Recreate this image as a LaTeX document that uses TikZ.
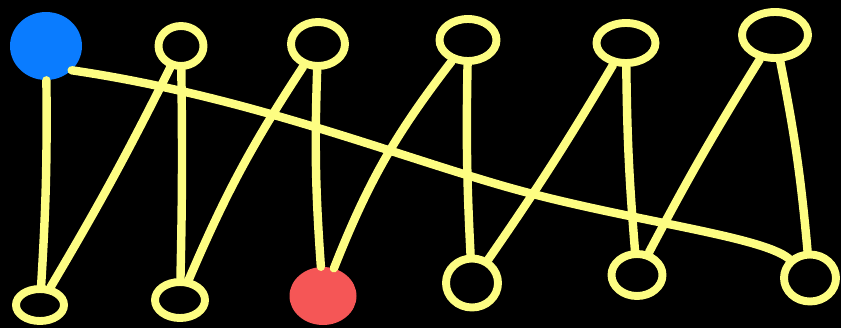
\documentclass[tikz,border=0pt]{standalone}
\usetikzlibrary{shapes.geometric}
\definecolor{penyellow}{HTML}{FDFD82}
\definecolor{startblue}{HTML}{0A7CFF}
\definecolor{endred}{HTML}{F55656}
\tikzset{
  ring/.style n args={2}{ellipse, draw=penyellow, line width=4.5pt, inner sep=0pt,
    minimum width={#1*0.02cm}, minimum height={#2*0.02cm}},
  blob/.style n args={2}{ellipse, inner sep=0pt,
    minimum width={#1*0.02cm}, minimum height={#2*0.02cm}},
  edge/.style={draw=penyellow, line width=4.8pt, line cap=round}
}
\begin{document}
\begin{tikzpicture}[x=0.02cm, y=-0.02cm]
  % background
  \fill[black] (0,0) rectangle (841,328);
  \useasboundingbox (0,0) rectangle (841,328);

  % top row
  \node[blob={72}{68}, fill=startblue] (s) at (46,46) {};
  \node[ring={45}{40}] (t2) at (181,46) {};
  \node[ring={54}{44}] (t3) at (318,44) {};
  \node[ring={57}{42}] (t4) at (468,40) {};
  \node[ring={59}{40}] (t5) at (626,43) {};
  \node[ring={66}{46}] (t6) at (775,35) {};

  % bottom row
  \node[ring={48}{32}] (b1) at (40,305) {};
  \node[ring={50}{36}] (b2) at (180,300) {};
  \node[blob={67}{58}, fill=endred] (r) at (323,296) {};
  \node[ring={52}{49}] (b4) at (472,283) {};
  \node[ring={51}{42}] (b5) at (637,275) {};
  \node[ring={52}{47}] (b6) at (810,278) {};

  % zig-zag edges
  \draw[edge] (s) to[bend left=2] (b1);
  \draw[edge] (b1) to[bend right=2] (t2);
  \draw[edge] (t2) to[bend left=1] (b2);
  \draw[edge] (b2) to[bend left=5] (t3);
  \draw[edge] (t3) to[bend right=3] (r);
  \draw[edge] (r) to[bend left=8] (t4);
  \draw[edge] (t4) to[bend right=2] (b4);
  \draw[edge] (b4) to[bend right=2] (t5);
  \draw[edge] (t5) to[bend right=2] (b5);
  \draw[edge] (b5) to[bend left=2] (t6);
  \draw[edge] (t6) to[bend left=3] (b6);

  % long edge
  \draw[edge] (s.south east) .. controls (240,95) and (380,150) .. (500,185)
    .. controls (620,220) and (760,235) .. (b6.north west);
\end{tikzpicture}
\end{document}
